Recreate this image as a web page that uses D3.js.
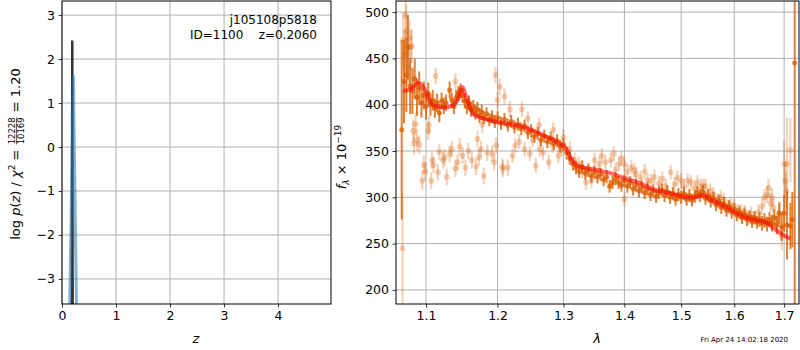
<!DOCTYPE html>
<html>
<head>
<meta charset="utf-8">
<script src="https://cdn.jsdelivr.net/npm/d3@7"></script>
<style>
  body { margin: 0; background: #fff; }
  text { font-family: "DejaVu Sans", sans-serif; }
</style>
</head>
<body>
<svg id="chart" width="800" height="350"></svg>
<script>
// ---- data ----
const zTicks = [0, 1, 2, 3, 4];
const pzTicks = [-3, -2, -1, 0, 1, 2, 3];
const lamTicks = [1.1, 1.2, 1.3, 1.4, 1.5, 1.6, 1.7];
const fluxTicks = [200, 250, 300, 350, 400, 450, 500];

// p(z) curves: z, log p(z)
const pzFitZ = [0.183, 0.19, 0.197];
const pzFitLog = [-4.0, 2.42, -4.0];
const pzPriorZ = [0.14, 0.21, 0.27];
const pzPriorLog = [-3.8, 1.63, -3.8];

// spectrum, strong points: [lambda, flux, err]
const darkPoints = [
  [1.068,373,97],[1.071,425,45],[1.074,432,40],[1.076,462,35],[1.079,420,30],
  [1.082,415,25],[1.085,428,22],[1.088,408,20],[1.091,418,18],[1.094,402,16],
  [1.097,410,15],[1.100,398,14],[1.103,412,12],[1.106,400,12],[1.109,405,11],
  [1.112,396,10],[1.115,402,10],[1.118,391,10],[1.121,404,9],[1.124,399,9],
  [1.127,402,9],[1.132,416,9],[1.135,405,8],[1.138,398,8],[1.141,408,8],
  [1.144,412,8],[1.147,415,8],[1.150,410,8],[1.153,404,8],[1.156,398,8],
  [1.159,402,8],[1.162,395,8],[1.165,397,8],[1.168,392,8],[1.171,395,8],
  [1.174,388,8],[1.177,392,8],[1.180,386,7],[1.184,390,7],[1.188,384,7],
  [1.192,387,7],[1.196,382,7],[1.200,386,7],[1.205,380,7],[1.210,384,7],
  [1.215,378,7],[1.220,382,7],[1.225,376,7],[1.230,379,7],[1.235,374,7],
  [1.240,377,7],[1.245,370,7],[1.250,372,7],[1.255,366,7],[1.260,369,7],
  [1.265,362,7],[1.270,366,7],[1.275,360,7],[1.280,364,7],[1.285,358,7],
  [1.290,361,7],[1.295,355,7],[1.300,357,7],[1.305,348,7],[1.310,342,7],
  [1.315,336,7],[1.320,332,7],[1.325,328,7],[1.330,333,7],[1.335,326,7],
  [1.340,329,7],[1.345,323,7],[1.350,327,7],[1.355,322,7],[1.360,325,7],
  [1.365,319,7],[1.370,322,7],[1.375,312,7],[1.380,316,7],[1.385,320,7],
  [1.390,316,7],[1.395,313,7],[1.400,318,7],[1.405,312,7],[1.410,316,7],
  [1.415,309,7],[1.420,313,7],[1.425,307,7],[1.430,311,7],[1.435,305,7],
  [1.440,309,7],[1.445,303,7],[1.450,307,7],[1.455,301,7],[1.460,305,7],
  [1.465,308,7],[1.470,302,7],[1.475,306,7],[1.480,300,7],[1.485,304,7],
  [1.490,298,7],[1.495,303,7],[1.500,300,7],[1.505,304,7],[1.510,298,7],
  [1.515,302,7],[1.520,297,7],[1.525,301,7],[1.530,305,7],[1.535,302,7],
  [1.540,306,7],[1.545,299,7],[1.550,302,7],[1.555,296,7],[1.560,299,7],
  [1.565,292,7],[1.570,296,7],[1.575,289,7],[1.580,293,7],[1.585,286,7],
  [1.590,290,7],[1.595,284,7],[1.600,287,7],[1.605,281,7],[1.610,284,7],
  [1.615,278,7],[1.620,282,7],[1.625,276,7],[1.630,279,7],[1.635,274,7],
  [1.640,278,7],[1.645,273,7],[1.650,276,8],[1.655,272,8],[1.660,275,8],
  [1.665,271,8],[1.670,276,8],[1.675,272,9],[1.680,278,9],[1.685,270,10],
  [1.690,283,12],[1.695,268,15],[1.700,283,20],[1.706,270,37],[1.713,269,25],
  [1.717,276,30],[1.722,445,260]
];

// spectrum, faint points: [lambda, flux, err]
const lightPoints = [
  [1.069,245,60],[1.070,470,30],[1.072,455,25],[1.073,496,25],[1.074,480,28],
  [1.077,440,20],[1.078,472,20],[1.080,463,18],[1.081,463,18],[1.083,372,12],
  [1.084,358,12],[1.086,379,12],[1.088,362,12],[1.091,357,10],[1.095,318,10],
  [1.097,335,10],[1.099,328,10],[1.103,372,10],[1.104,378,10],[1.107,318,9],
  [1.108,340,9],[1.110,335,9],[1.113,431,9],[1.116,327,9],[1.118,349,9],
  [1.123,340,9],[1.125,343,9],[1.128,322,9],[1.132,347,9],[1.135,352,9],
  [1.140,331,9],[1.140,425,9],[1.143,338,9],[1.146,355,9],[1.150,345,9],
  [1.154,332,9],[1.158,350,9],[1.163,340,9],[1.169,333,9],[1.171,363,9],
  [1.173,343,9],[1.176,352,9],[1.178,378,9],[1.180,323,9],[1.185,348,9],
  [1.192,347,9],[1.195,338,9],[1.197,432,9],[1.198,356,9],[1.200,405,9],
  [1.203,419,9],[1.207,333,9],[1.208,331,9],[1.210,409,9],[1.215,332,9],
  [1.218,395,9],[1.222,345,8],[1.226,356,8],[1.232,360,8],[1.236,395,8],
  [1.240,352,8],[1.245,385,8],[1.248,347,8],[1.252,362,8],[1.257,334,8],
  [1.262,378,8],[1.263,352,8],[1.268,348,8],[1.277,338,8],[1.283,356,8],
  [1.284,373,8],[1.292,345,8],[1.297,352,8],[1.300,365,8],[1.310,352,8],
  [1.318,340,8],[1.325,336,8],[1.330,328,8],[1.336,316,8],[1.340,330,8],
  [1.345,318,8],[1.350,340,8],[1.358,336,8],[1.362,345,8],[1.368,338,8],
  [1.377,340,8],[1.382,347,8],[1.385,330,8],[1.391,336,8],[1.395,342,8],
  [1.400,336,8],[1.400,298,8],[1.405,328,8],[1.412,332,8],[1.417,329,8],
  [1.420,325,8],[1.428,321,8],[1.435,328,8],[1.440,318,8],[1.446,318,8],
  [1.452,322,8],[1.460,315,8],[1.466,320,8],[1.472,312,8],[1.481,327,8],
  [1.488,314,8],[1.493,321,8],[1.500,318,8],[1.505,312,8],[1.512,318,8],
  [1.518,316,8],[1.525,310,8],[1.530,316,8],[1.537,312,8],[1.541,312,8],
  [1.545,312,8],[1.554,307,8],[1.560,303,8],[1.568,296,8],[1.574,300,8],
  [1.580,297,8],[1.588,290,8],[1.593,292,8],[1.600,290,8],[1.607,285,8],
  [1.613,285,8],[1.620,284,8],[1.627,278,8],[1.633,282,8],[1.640,278,8],
  [1.648,284,8],[1.655,290,9],[1.660,300,9],[1.665,303,9],[1.668,310,10],
  [1.672,294,10],[1.675,300,10],[1.678,289,10],[1.686,274,12],[1.690,280,12],
  [1.695,258,15],[1.700,336,25],[1.702,318,20],[1.704,307,20],[1.706,336,50],
  [1.713,351,35]
];

// best-fit model
const modelLam = [1.0697,1.0792,1.0894,1.0991,1.1048,1.1139,1.1261,1.1357,1.1440,1.1492,
  1.1566,1.1646,1.1750,1.1894,1.2039,1.2336,1.2532,1.2750,1.2905,1.3045,
  1.3140,1.3269,1.3480,1.3761,1.4048,1.4272,1.4499,1.4748,1.4983,1.5222,
  1.5408,1.5539,1.5672,1.5864,1.6058,1.6254,1.6453,1.6654,1.6776,1.6920,
  1.7064,1.7127];
const modelFlux = [414.8,416.6,423.5,415.5,404.7,398.2,397.1,399.2,406.8,419.1,
  404.7,390.2,386.2,382.9,380.8,376.7,372.1,364.8,359.3,352.2,
  339.5,332.9,330.4,326.1,319.6,315.2,308.7,305.0,301.4,299.6,
  302.2,297.8,294.1,288.7,282.6,277.8,275.0,272.4,267.0,261.5,
  256.8,255.4];

const objName = "j105108p5818";
const objInfo = "ID=1100    z=0.2060";
const stamp = "Fri Apr 24 14:02:18 2020";

// ---- drawing ----
const svg = d3.select("#chart");
const orange = "#d95f02";
const gridCol = "#b0b0b0";
const tickFont = 12.5;

const pzX = d3.scaleLinear().domain([0, 4.98]).range([62, 331]);
const pzY = d3.scaleLinear().domain([-3.57, 3.32]).range([304, 1]);
const spX = d3.scaleLog().domain([1.0606, 1.731]).range([396, 799]);
const spY = d3.scaleLinear().domain([184.8, 512]).range([304, 1]);

const defs = svg.append("defs");
defs.append("clipPath").attr("id", "clipL").append("rect")
    .attr("x", 62).attr("y", 1).attr("width", 269).attr("height", 303);
defs.append("clipPath").attr("id", "clipR").append("rect")
    .attr("x", 396).attr("y", 1).attr("width", 403).attr("height", 303);

function grid(xs, ys, xt, yt){
    let g = svg.append("g");
    xt.forEach(t => {
        g.append("line")
            .attr("x1", xs(t)).attr("x2", xs(t))
            .attr("y1", ys.range()[0]).attr("y2", ys.range()[1])
            .attr("stroke", gridCol).attr("stroke-width", 1);
    });
    yt.forEach(t => {
        g.append("line")
            .attr("x1", xs.range()[0]).attr("x2", xs.range()[1])
            .attr("y1", ys(t)).attr("y2", ys(t))
            .attr("stroke", gridCol).attr("stroke-width", 1);
    });
}

function axes(xs, ys, xt, yt, fmtX, fmtY){
    let gx = svg.append("g")
        .attr("transform", "translate(0," + ys.range()[0] + ")")
        .call(d3.axisBottom(xs).tickValues(xt).tickFormat(fmtX).tickSize(3.5).tickPadding(3.5));
    let gy = svg.append("g")
        .attr("transform", "translate(" + xs.range()[0] + ",0)")
        .call(d3.axisLeft(ys).tickValues(yt).tickFormat(fmtY).tickSize(3.5).tickPadding(3.5));
    [gx, gy].forEach(g => {
        g.select(".domain").remove();
        g.attr("font-size", tickFont).attr("font-family", "DejaVu Sans");
        g.selectAll("line").attr("stroke", "#000").attr("stroke-width", 0.8);
        g.selectAll("text").attr("fill", "#000");
    });
    svg.append("rect")
        .attr("x", xs.range()[0]).attr("y", ys.range()[1])
        .attr("width", xs.range()[1] - xs.range()[0])
        .attr("height", ys.range()[0] - ys.range()[1])
        .attr("fill", "none").attr("stroke", "#000").attr("stroke-width", 1);
}

const minus = s => s.replace("-", "\u2212");

// left panel
grid(pzX, pzY, zTicks, pzTicks);
let gL = svg.append("g").attr("clip-path", "url(#clipL)");
let pzLine = d3.line().x(d => pzX(d[0])).y(d => pzY(d[1]));
gL.append("path")
    .attr("d", pzLine(pzFitZ.map((z, i) => [z, pzFitLog[i]])))
    .attr("fill", "none").attr("stroke", "#333").attr("stroke-width", 2.5);
gL.append("path")
    .attr("d", pzLine(pzPriorZ.map((z, i) => [z, pzPriorLog[i]])))
    .attr("fill", "none").attr("stroke", "#1f77b4").attr("stroke-opacity", 0.55).attr("stroke-width", 3);
axes(pzX, pzY, zTicks, pzTicks, d3.format("d"), d => minus(d3.format("d")(d)));

svg.append("text").attr("x", 317).attr("y", 24).attr("text-anchor", "end")
    .attr("font-size", 12).text(objName);
svg.append("text").attr("x", 317).attr("y", 39).attr("text-anchor", "end")
    .attr("font-size", 12).style("white-space", "pre").text(objInfo);

svg.append("text").attr("x", 196).attr("y", 343).attr("text-anchor", "middle")
    .attr("font-size", 13).attr("font-style", "italic").text("z");

// left y label with fraction
let yl = svg.append("g");
let t1 = yl.append("text").attr("font-size", 13);
t1.append("tspan").text("log ");
t1.append("tspan").attr("font-style", "italic").text("p");
t1.append("tspan").text("(");
t1.append("tspan").attr("font-style", "italic").text("z");
t1.append("tspan").text(") / ");
t1.append("tspan").attr("font-style", "italic").text("\u03c7");
t1.append("tspan").attr("font-size", 9).attr("dy", -5).text("2");
t1.append("tspan").attr("dy", 5).text("\u00a0=\u00a0");
let w1 = t1.node().getComputedTextLength();
let num = yl.append("text").attr("font-size", 8.5).attr("x", w1 + 1).attr("y", -5.5).text("12228");
let den = yl.append("text").attr("font-size", 8.5).attr("x", w1 + 1).attr("y", 3.5).text("10169");
let wf = Math.max(num.node().getComputedTextLength(), den.node().getComputedTextLength());
yl.append("line").attr("x1", w1 + 1).attr("x2", w1 + 1 + wf)
    .attr("y1", -3.5).attr("y2", -3.5).attr("stroke", "#000").attr("stroke-width", 0.6);
let t3 = yl.append("text").attr("font-size", 13).attr("x", w1 + wf + 2).text("\u00a0=\u00a01.20");
let wTot = w1 + wf + 2 + t3.node().getComputedTextLength();
yl.attr("transform", "translate(20," + (154 + wTot / 2) + ") rotate(-90)");

// right panel
grid(spX, spY, lamTicks, fluxTicks);
let gR = svg.append("g").attr("clip-path", "url(#clipR)");

function errPoints(g, pts, op, r, sw){
    g.selectAll(null).data(pts).enter().append("line")
        .attr("x1", d => spX(d[0])).attr("x2", d => spX(d[0]))
        .attr("y1", d => spY(d[1] - d[2])).attr("y2", d => spY(d[1] + d[2]))
        .attr("stroke", orange).attr("stroke-opacity", op).attr("stroke-width", sw);
    g.selectAll(null).data(pts).enter().append("circle")
        .attr("cx", d => spX(d[0])).attr("cy", d => spY(d[1])).attr("r", r)
        .attr("fill", orange).attr("fill-opacity", op);
}
errPoints(gR.append("g"), lightPoints, 0.28, 3, 2.2);
errPoints(gR.append("g"), darkPoints, 0.8, 2.5, 2);

gR.append("path")
    .attr("d", d3.line().curve(d3.curveMonotoneX)
        .x((d, i) => spX(modelLam[i])).y(d => spY(d))(modelFlux))
    .attr("fill", "none").attr("stroke", "red").attr("stroke-opacity", 0.6)
    .attr("stroke-width", 4).attr("stroke-linejoin", "round");

axes(spX, spY, lamTicks, fluxTicks, d3.format(".1f"), d3.format("d"));

svg.append("text").attr("x", 597).attr("y", 343).attr("text-anchor", "middle")
    .attr("font-size", 13).attr("font-style", "italic").text("\u03bb");

let yr = svg.append("text").attr("font-size", 13).attr("text-anchor", "middle")
    .attr("transform", "translate(346,157) rotate(-90)");
yr.append("tspan").attr("font-style", "italic").text("f");
yr.append("tspan").attr("font-size", 9).attr("dy", 3).attr("font-style", "italic").text("\u03bb");
yr.append("tspan").attr("dy", -3).text(" \u00d7 10");
yr.append("tspan").attr("font-size", 9).attr("dy", -5).text("\u221219");

svg.append("text").attr("x", 788).attr("y", 342).attr("text-anchor", "end")
    .attr("font-size", 7).text(stamp);
</script>
</body>
</html>
